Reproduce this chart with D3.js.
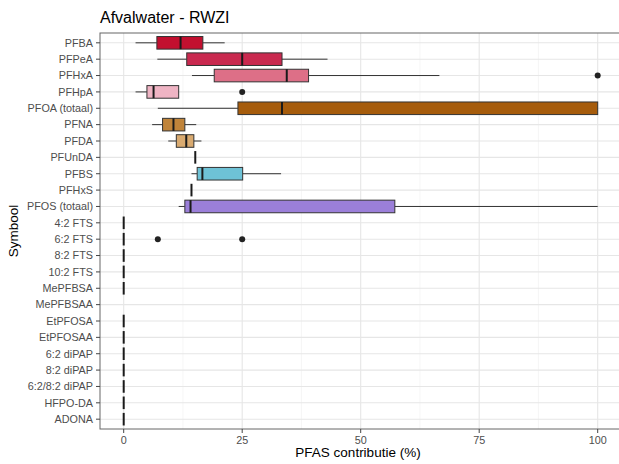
<!DOCTYPE html>
<html><head><meta charset="utf-8">
<script src="https://cdn.jsdelivr.net/npm/d3@7"></script>
<style>body{margin:0;background:#fff;} svg{display:block;font-family:"Liberation Sans",Arial,sans-serif;}</style>
</head><body>
<svg id="chart" width="619" height="464"></svg>
<script>
const categories = ["PFBA","PFPeA","PFHxA","PFHpA","PFOA (totaal)","PFNA","PFDA","PFUnDA","PFBS","PFHxS","PFOS (totaal)","4:2 FTS","6:2 FTS","8:2 FTS","10:2 FTS","MePFBSA","MePFBSAA","EtPFOSA","EtPFOSAA","6:2 diPAP","8:2 diPAP","6:2/8:2 diPAP","HFPO-DA","ADONA"];
const whiskerLow  = [2.5, 7.1, 14.4, 2.5, 7.2, 6.0, 9.4, 15.1, 14.3, 14.3, 11.6, 0,0,0,0,0, null, 0,0,0,0,0,0,0];
const q1          = [7.0, 13.3, 19.1, 4.9, 24.1, 8.2, 11.1, 15.1, 15.5, 14.3, 12.9, 0,0,0,0,0, null, 0,0,0,0,0,0,0];
const median      = [12.0, 25.0, 34.4, 6.3, 33.4, 10.5, 13.2, 15.1, 16.6, 14.3, 14.1, 0,0,0,0,0, null, 0,0,0,0,0,0,0];
const q3          = [16.7, 33.4, 39.0, 11.6, 100, 12.9, 14.8, 15.1, 25.1, 14.3, 57.2, 0,0,0,0,0, null, 0,0,0,0,0,0,0];
const whiskerHigh = [21.3, 43.0, 66.6, 11.6, 100, 15.3, 16.4, 15.1, 33.2, 14.3, 100, 0,0,0,0,0, null, 0,0,0,0,0,0,0];
const outliers    = [[],[],[100],[25.0],[],[],[],[],[],[],[],[],[7.2,25.0],[],[],[],[],[],[],[],[],[],[],[]];
const fills = ["#c2102f","#c9294f","#dd6f87","#efb4c4","#a65c0c","#c0843a","#d9aa70","#d9aa70","#6ec2d6","#6ec2d6","#9b7fd9","#9b7fd9","#9b7fd9","#9b7fd9","#9b7fd9","#9b7fd9","#9b7fd9","#9b7fd9","#9b7fd9","#9b7fd9","#9b7fd9","#9b7fd9","#9b7fd9","#9b7fd9"];
const xTicks = [0,25,50,75,100];
const xMinor = [12.5,37.5,62.5,87.5];

const svg = d3.select("#chart");
const L = 100, T = 33, R = 621.4, B = 429;
const x = d3.scaleLinear().domain([-5,105]).range([L,R]);
const n = categories.length;
const y = d3.scalePoint().domain(categories).range([T, B]).padding(0.6);
const step = y.step();
const bh = step*0.77;

// panel
svg.append("rect").attr("x",L).attr("y",T).attr("width",R-L).attr("height",B-T).attr("fill","#fff");
const g = svg.append("g");
g.selectAll(".minor").data(xMinor).enter().append("line")
  .attr("x1",d=>x(d)).attr("x2",d=>x(d)).attr("y1",T).attr("y2",B)
  .attr("stroke","#f0f0f0").attr("stroke-width",0.6);
g.selectAll(".major").data(xTicks).enter().append("line")
  .attr("x1",d=>x(d)).attr("x2",d=>x(d)).attr("y1",T).attr("y2",B)
  .attr("stroke","#e6e6e6").attr("stroke-width",1.1);
g.selectAll(".hmajor").data(categories).enter().append("line")
  .attr("x1",L).attr("x2",R).attr("y1",d=>y(d)).attr("y2",d=>y(d))
  .attr("stroke","#e6e6e6").attr("stroke-width",1.1);

// boxes
const idx = d3.range(n).filter(i => median[i] !== null);
const bx = svg.append("g");
idx.forEach(i => {
  const cy = y(categories[i]);
  const gg = bx.append("g");
  gg.append("line").attr("x1",x(whiskerLow[i])).attr("x2",x(q1[i])).attr("y1",cy).attr("y2",cy).attr("stroke","#333").attr("stroke-width",1);
  gg.append("line").attr("x1",x(q3[i])).attr("x2",x(whiskerHigh[i])).attr("y1",cy).attr("y2",cy).attr("stroke","#333").attr("stroke-width",1);
  gg.append("rect").attr("x",x(q1[i])).attr("y",cy-bh/2).attr("width",x(q3[i])-x(q1[i])).attr("height",bh)
    .attr("fill",fills[i]).attr("stroke","#333").attr("stroke-width",1);
  gg.append("line").attr("x1",x(median[i])).attr("x2",x(median[i])).attr("y1",cy-bh/2).attr("y2",cy+bh/2)
    .attr("stroke","#1a1a1a").attr("stroke-width",2);
  outliers[i].forEach(v => {
    gg.append("circle").attr("cx",x(v)).attr("cy",cy).attr("r",3).attr("fill","#222");
  });
});

// border
svg.append("rect").attr("x",L).attr("y",T).attr("width",R-L).attr("height",B-T).attr("fill","none").attr("stroke","#666").attr("stroke-width",1);

// y axis
const ya = svg.append("g");
categories.forEach(c => {
  const cy = y(c);
  ya.append("line").attr("x1",L-4).attr("x2",L).attr("y1",cy).attr("y2",cy).attr("stroke","#444");
  ya.append("text").attr("x",L-7).attr("y",cy).attr("dy","0.35em").attr("text-anchor","end")
    .attr("font-size",10.8).attr("fill","#4d4d4d").text(c);
});
// x axis
const xa = svg.append("g");
xTicks.forEach(t => {
  xa.append("line").attr("x1",x(t)).attr("x2",x(t)).attr("y1",B).attr("y2",B+4).attr("stroke","#444");
  xa.append("text").attr("x",x(t)).attr("y",B+15).attr("text-anchor","middle")
    .attr("font-size",10.8).attr("fill","#4d4d4d").text(t);
});
svg.append("text").attr("x",358).attr("y",457).attr("text-anchor","middle").attr("font-size",13.5).attr("fill","#000").text("PFAS contributie (%)");
svg.append("text").attr("transform",`translate(18,${(T+B)/2}) rotate(-90)`).attr("text-anchor","middle").attr("font-size",13.5).attr("fill","#000").text("Symbool");
svg.append("text").attr("x",L).attr("y",23).attr("font-size",16).attr("fill","#000").text("Afvalwater - RWZI");
</script>
</body></html>
